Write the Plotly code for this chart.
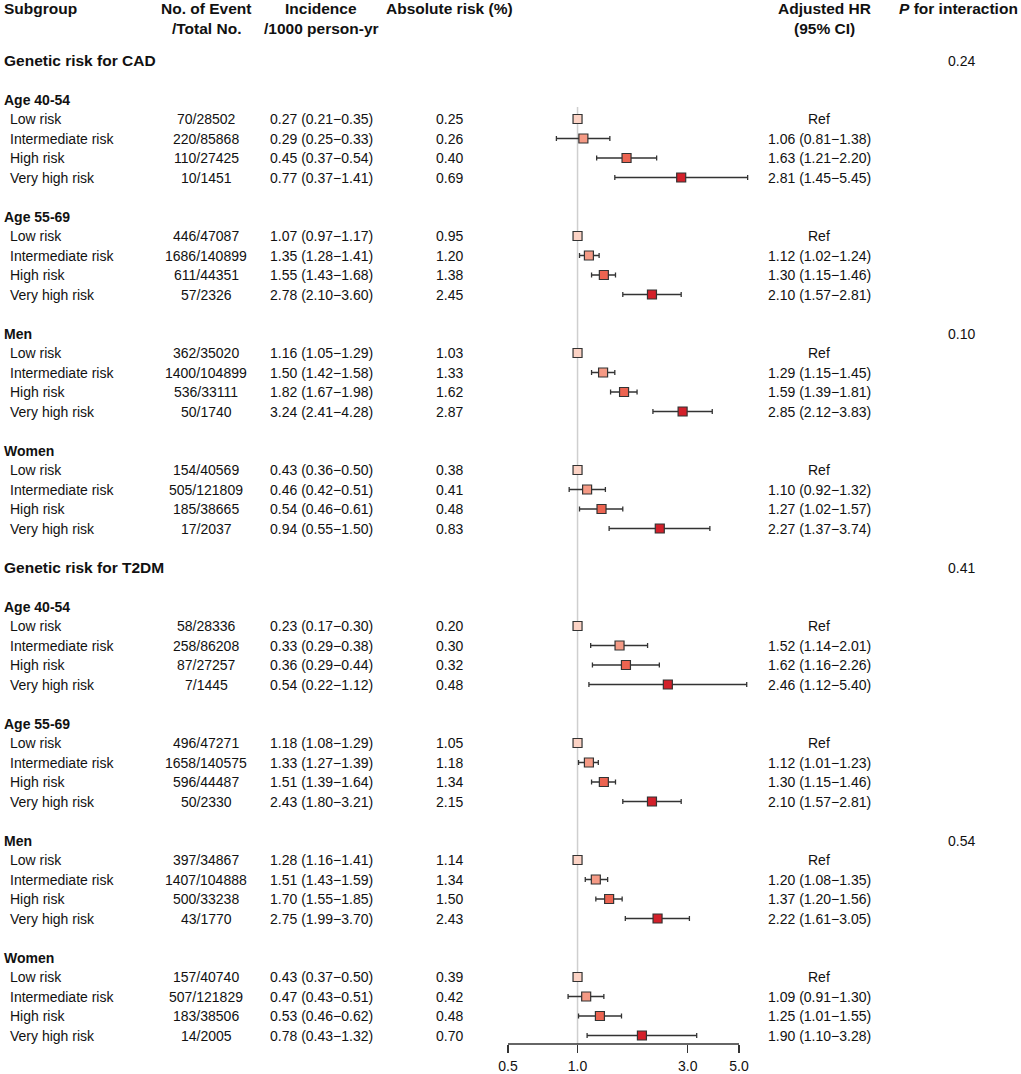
import math
import plotly.graph_objects as go

# ---------------- data ----------------
groups = ["Genetic risk for CAD", "Genetic risk for T2DM"]
subgroups = ["Age 40-54", "Age 55-69", "Men", "Women"]
risk_levels = ["Low risk", "Intermediate risk", "High risk", "Very high risk"]

events = [
    "70/28502", "220/85868", "110/27425", "10/1451",
    "446/47087", "1686/140899", "611/44351", "57/2326",
    "362/35020", "1400/104899", "536/33111", "50/1740",
    "154/40569", "505/121809", "185/38665", "17/2037",
    "58/28336", "258/86208", "87/27257", "7/1445",
    "496/47271", "1658/140575", "596/44487", "50/2330",
    "397/34867", "1407/104888", "500/33238", "43/1770",
    "157/40740", "507/121829", "183/38506", "14/2005",
]
incidence = [
    "0.27 (0.21\u22120.35)", "0.29 (0.25\u22120.33)", "0.45 (0.37\u22120.54)", "0.77 (0.37\u22121.41)",
    "1.07 (0.97\u22121.17)", "1.35 (1.28\u22121.41)", "1.55 (1.43\u22121.68)", "2.78 (2.10\u22123.60)",
    "1.16 (1.05\u22121.29)", "1.50 (1.42\u22121.58)", "1.82 (1.67\u22121.98)", "3.24 (2.41\u22124.28)",
    "0.43 (0.36\u22120.50)", "0.46 (0.42\u22120.51)", "0.54 (0.46\u22120.61)", "0.94 (0.55\u22121.50)",
    "0.23 (0.17\u22120.30)", "0.33 (0.29\u22120.38)", "0.36 (0.29\u22120.44)", "0.54 (0.22\u22121.12)",
    "1.18 (1.08\u22121.29)", "1.33 (1.27\u22121.39)", "1.51 (1.39\u22121.64)", "2.43 (1.80\u22123.21)",
    "1.28 (1.16\u22121.41)", "1.51 (1.43\u22121.59)", "1.70 (1.55\u22121.85)", "2.75 (1.99\u22123.70)",
    "0.43 (0.37\u22120.50)", "0.47 (0.43\u22120.51)", "0.53 (0.46\u22120.62)", "0.78 (0.43\u22121.32)",
]
abs_risk = [
    "0.25", "0.26", "0.40", "0.69",
    "0.95", "1.20", "1.38", "2.45",
    "1.03", "1.33", "1.62", "2.87",
    "0.38", "0.41", "0.48", "0.83",
    "0.20", "0.30", "0.32", "0.48",
    "1.05", "1.18", "1.34", "2.15",
    "1.14", "1.34", "1.50", "2.43",
    "0.39", "0.42", "0.48", "0.70",
]
hr = [
    1.00, 1.06, 1.63, 2.81,
    1.00, 1.12, 1.30, 2.10,
    1.00, 1.29, 1.59, 2.85,
    1.00, 1.10, 1.27, 2.27,
    1.00, 1.52, 1.62, 2.46,
    1.00, 1.12, 1.30, 2.10,
    1.00, 1.20, 1.37, 2.22,
    1.00, 1.09, 1.25, 1.90,
]
hr_lo = [
    None, 0.81, 1.21, 1.45,
    None, 1.02, 1.15, 1.57,
    None, 1.15, 1.39, 2.12,
    None, 0.92, 1.02, 1.37,
    None, 1.14, 1.16, 1.12,
    None, 1.01, 1.15, 1.57,
    None, 1.08, 1.20, 1.61,
    None, 0.91, 1.01, 1.10,
]
hr_hi = [
    None, 1.38, 2.20, 5.45,
    None, 1.24, 1.46, 2.81,
    None, 1.45, 1.81, 3.83,
    None, 1.32, 1.57, 3.74,
    None, 2.01, 2.26, 5.40,
    None, 1.23, 1.46, 2.81,
    None, 1.35, 1.56, 3.05,
    None, 1.30, 1.55, 3.28,
]
p_interaction = ["0.24", "0.10", "0.41", "0.54"]  # CAD age, CAD sex, T2DM age, T2DM sex
x_ticks = [0.5, 1.0, 3.0, 5.0]
x_tick_labels = ["0.5", "1.0", "3.0", "5.0"]

# ---------------- styling / layout ----------------
W, H = 1021, 1074
FONT = "Liberation Sans, Arial, Helvetica, sans-serif"
TXT = "#111111"
risk_colors = ["#FCD3C5", "#F59A85", "#EC6451", "#D3202A"]
ROW0, STEP = 60.5, 19.5
AX_Y = 1044  # pixel position of the forest x-axis line

X_SUB = 2
X_SUB_IND = 8
X_EVT = 206
X_INC = 321
X_ABS = 449
X_HR = 819
X_HR_HEAD = 824
X_P = 961

annotations = []


def ann(x, y, text, size=14, bold=False, anchor="center"):
    if bold:
        text = "<b>" + text + "</b>"
    annotations.append(dict(
        x=x, y=y, xref="x", yref="y", text=text, showarrow=False,
        xanchor=anchor, yanchor="middle",
        font=dict(family=FONT, size=size, color=TXT),
    ))


# Header
ann(X_SUB, 8.5, "Subgroup", 15.5, True, "left")
ann(X_EVT, 8.5, "No. of Event", 15.5, True)
ann(X_EVT, 28, "/Total No.", 15.5, True)
ann(X_INC, 8.5, "Incidence", 15.5, True)
ann(X_INC, 28, "/1000 person-yr", 15.5, True)
ann(X_ABS, 8.5, "Absolute risk (%)", 15.5, True)
ann(X_HR_HEAD, 8.5, "Adjusted HR", 15.5, True)
ann(X_HR_HEAD, 28, "(95% CI)", 15.5, True)
ann(1020, 8.5, "<i>P</i> for interaction", 15.5, True, "right")

row_y = []
row_idx = 0
for g, gname in enumerate(groups):
    y_g = ROW0 + row_idx * STEP
    ann(X_SUB, y_g, gname, 15.5, True, "left")
    ann(X_P, y_g, p_interaction[g * 2])
    row_idx += 2
    for s, sname in enumerate(subgroups):
        y_s = ROW0 + row_idx * STEP
        ann(X_SUB, y_s, sname, 14, True, "left")
        if sname == "Men":
            ann(X_P, y_s, p_interaction[g * 2 + 1])
        row_idx += 1
        for r, rname in enumerate(risk_levels):
            k = g * 16 + s * 4 + r
            y = ROW0 + row_idx * STEP
            row_y.append(y)
            ann(X_SUB_IND, y, rname, 14, False, "left")
            ann(X_EVT, y, events[k])
            ann(X_INC, y, incidence[k])
            ann(X_ABS, y, abs_risk[k])
            if hr_lo[k] is None:
                ann(X_HR, y, "Ref")
            else:
                ann(X_HR, y, f"{hr[k]:.2f} ({hr_lo[k]:.2f}\u2212{hr_hi[k]:.2f})")
            row_idx += 1
        row_idx += 1

fig = go.Figure()

# forest axis geometry: 0.5 -> 508 px, 5.0 -> 739 px (one decade)
x_lo_px = 508
px_per_decade = 231.0
x_max = 5.7
x_hi_px = x_lo_px + px_per_decade * (math.log10(x_max) - math.log10(0.5))

# Reference line at HR = 1
fig.add_shape(type="line", xref="x2", yref="y", x0=1, x1=1, y0=107, y1=AX_Y,
              line=dict(color="#cfcfcf", width=1.5), layer="below")
# Axis line spanning the tick range 0.5 - 5.0
fig.add_shape(type="line", xref="x2", yref="y", x0=x_ticks[0], x1=x_ticks[-1],
              y0=AX_Y, y1=AX_Y, line=dict(color="#333333", width=1.3))

ref_idx = [k for k in range(len(hr)) if hr_lo[k] is None]
est_idx = [k for k in range(len(hr)) if hr_lo[k] is not None]

fig.add_trace(go.Scatter(
    x=[hr[k] for k in est_idx], y=[row_y[k] for k in est_idx],
    xaxis="x2", yaxis="y", mode="markers", cliponaxis=False,
    marker=dict(symbol="square", size=9,
                color=[risk_colors[k % 4] for k in est_idx],
                line=dict(color="#333333", width=1.2)),
    error_x=dict(type="data", symmetric=False,
                 array=[hr_hi[k] - hr[k] for k in est_idx],
                 arrayminus=[hr[k] - hr_lo[k] for k in est_idx],
                 color="#333333", thickness=1.3, width=2.5),
    hoverinfo="skip", showlegend=False,
))
fig.add_trace(go.Scatter(
    x=[hr[k] for k in ref_idx], y=[row_y[k] for k in ref_idx],
    xaxis="x2", yaxis="y", mode="markers", cliponaxis=False,
    marker=dict(symbol="square", size=9,
                color=[risk_colors[k % 4] for k in ref_idx],
                line=dict(color="#333333", width=1.2)),
    hoverinfo="skip", showlegend=False,
))

fig.update_layout(
    width=W, height=H,
    margin=dict(l=0, r=0, t=0, b=0, pad=0, autoexpand=False),
    paper_bgcolor="white", plot_bgcolor="rgba(0,0,0,0)",
    showlegend=False,
    annotations=annotations,
    xaxis=dict(range=[0, W], visible=False, domain=[0, 1], fixedrange=True),
    yaxis=dict(range=[H, 0], visible=False, domain=[0, 1], fixedrange=True),
    xaxis2=dict(
        type="log", range=[math.log10(0.5), math.log10(x_max)],
        domain=[x_lo_px / W, x_hi_px / W],
        anchor="free", position=(H - AX_Y) / H,
        showline=False, automargin=False,
        ticks="outside", ticklen=8, tickwidth=1.3, tickcolor="#333333",
        ticklabelstandoff=1,
        tickvals=x_ticks, ticktext=x_tick_labels,
        tickfont=dict(family=FONT, size=14, color=TXT),
        showgrid=False, zeroline=False, fixedrange=True,
    ),
)

fig.write_html(
    "out.html",
    config={"displayModeBar": False, "staticPlot": True},
    post_script="document.body.style.margin='0';document.body.style.overflow='hidden';",
)
